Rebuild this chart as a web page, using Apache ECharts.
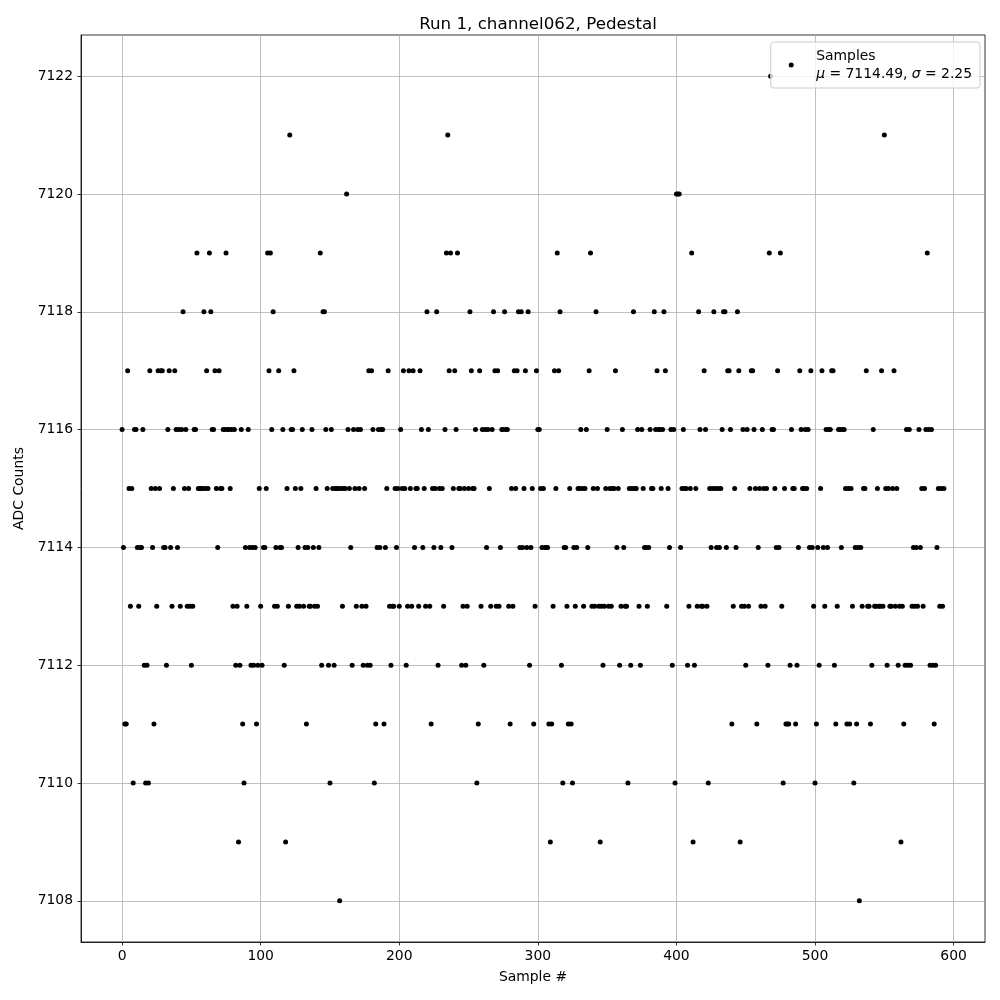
<!DOCTYPE html>
<html>
<head>
<meta charset="utf-8">
<script src="https://cdn.jsdelivr.net/npm/echarts@6/dist/echarts.min.js"></script>
<style>
  html, body { margin: 0; padding: 0; background: #fff; }
  #chart { width: 1000px; height: 1000px; }
</style>
</head>
<body>
<div id="chart"></div>
<script>
// pedestal ADC counts, one per sample
const adc = [
  7116,7114,7111,7111,7117,7115,7113,7115,7110,7116,
  7116,7114,7113,7114,7114,7116,7112,7110,7112,7110,
  7117,7115,7114,7111,7115,7113,7117,7115,7117,7117,
  7114,7114,7112,7116,7117,7114,7113,7115,7117,7116,
  7114,7116,7113,7116,7118,7115,7116,7113,7115,7113,
  7112,7113,7116,7116,7119,7115,7115,7115,7115,7118,
  7115,7117,7115,7119,7118,7116,7116,7117,7115,7114,
  7117,7115,7115,7116,7116,7119,7116,7116,7115,7116,
  7113,7116,7112,7113,7109,7112,7116,7111,7110,7114,
  7113,7116,7114,7112,7114,7112,7114,7111,7112,7115,
  7113,7112,7114,7114,7115,7119,7117,7119,7116,7118,
  7113,7114,7113,7117,7114,7114,7116,7112,7109,7115,
  7113,7121,7116,7116,7117,7115,7113,7114,7113,7115,
  7116,7113,7114,7111,7114,7113,7113,7116,7114,7113,
  7115,7113,7114,7119,7112,7118,7118,7116,7115,7112,
  7110,7116,7115,7112,7115,7115,7115,7108,7115,7113,
  7115,7115,7120,7116,7115,7114,7112,7116,7115,7113,
  7116,7115,7116,7113,7112,7115,7113,7112,7117,7112,
  7117,7116,7110,7111,7114,7116,7114,7116,7116,7111,
  7114,7115,7117,7113,7112,7113,7113,7115,7114,7115,
  7113,7116,7115,7117,7115,7112,7113,7117,7115,7113,
  7117,7114,7115,7115,7113,7117,7116,7114,7115,7113,
  7118,7116,7113,7111,7115,7114,7115,7118,7112,7115,
  7114,7115,7113,7116,7119,7121,7117,7119,7114,7115,
  7117,7116,7119,7115,7115,7112,7113,7115,7112,7113,
  7115,7118,7117,7115,7115,7116,7110,7111,7117,7113,
  7116,7112,7116,7114,7116,7115,7113,7116,7118,7117,
  7113,7117,7113,7114,7116,7116,7118,7116,7116,7113,
  7111,7115,7113,7117,7115,7117,7118,7114,7118,7114,
  7115,7117,7114,7118,7112,7114,7115,7111,7113,7117,
  7116,7116,7115,7114,7115,7114,7114,7114,7111,7109,
  7111,7113,7117,7115,7119,7117,7118,7112,7110,7114,
  7114,7113,7111,7115,7111,7110,7114,7113,7114,7115,
  7115,7116,7115,7113,7115,7116,7114,7117,7119,7113,
  7115,7113,7118,7115,7113,7109,7113,7112,7113,7115,
  7116,7113,7115,7113,7115,7115,7117,7114,7115,7112,
  7113,7116,7114,7113,7113,7110,7115,7112,7115,7118,
  7115,7115,7116,7113,7112,7116,7115,7114,7114,7113,
  7114,7116,7115,7115,7118,7116,7117,7116,7116,7115,
  7116,7118,7117,7113,7115,7114,7116,7112,7116,7110,
  7120,7120,7120,7114,7115,7116,7115,7115,7112,7113,
  7115,7119,7109,7112,7115,7113,7118,7116,7113,7113,
  7117,7116,7113,7110,7115,7114,7115,7118,7115,7114,
  7115,7114,7115,7116,7118,7118,7114,7117,7117,7116,
  7111,7113,7115,7114,7118,7117,7109,7113,7116,7113,
  7112,7116,7113,7115,7117,7117,7116,7115,7111,7114,
  7115,7113,7116,7115,7113,7115,7112,7119,7122,7116,
  7116,7115,7114,7117,7114,7119,7113,7110,7115,7111,
  7111,7111,7112,7116,7115,7115,7111,7112,7114,7117,
  7116,7115,7115,7116,7115,7116,7114,7117,7114,7113,
  7110,7111,7114,7112,7115,7117,7114,7113,7116,7114,
  7116,7116,7117,7117,7112,7111,7113,7116,7116,7114,
  7116,7116,7115,7111,7115,7111,7115,7113,7110,7114,
  7111,7114,7108,7114,7113,7115,7115,7117,7113,7113,
  7111,7112,7116,7113,7113,7115,7113,7113,7117,7113,
  7121,7115,7112,7115,7113,7113,7115,7117,7113,7115,
  7112,7113,7109,7113,7111,7112,7116,7112,7116,7112,
  7113,7114,7113,7114,7113,7116,7114,7115,7113,7115,
  7116,7119,7116,7112,7116,7112,7111,7112,7114,7115,
  7113,7115,7113,7115
];

const xTicks = [0, 100, 200, 300, 400, 500, 600];
const yTicks = [7108, 7110, 7112, 7114, 7116, 7118, 7120, 7122];
const legendName = 'Samples';
const meanText = '7114.49';
const sigmaText = '2.25';

const font = 'DejaVu Sans';
const chart = echarts.init(document.getElementById('chart'));

chart.setOption({
  animation: false,
  backgroundColor: '#fff',
  title: {
    text: 'Run 1, channel062, Pedestal',
    left: 533,
    textAlign: 'center',
    top: 11,
    textStyle: { fontFamily: font, fontSize: 16.7, fontWeight: 'normal', color: '#000' }
  },
  grid: {
    left: 81, right: 15, top: 35, bottom: 58,
    show: true, borderColor: '#000', borderWidth: 0.8, backgroundColor: 'transparent'
  },
  legend: {
    right: 20,
    top: 42,
    orient: 'vertical',
    backgroundColor: 'rgba(255,255,255,0.8)',
    borderColor: '#cccccc',
    borderWidth: 1,
    borderRadius: 3,
    padding: [5, 8, 5, 18],
    itemWidth: 30,
    itemHeight: 5,
    icon: 'circle',
    data: [legendName],
    formatter: () => '{n|' + legendName + '}\n{i|μ} = ' + meanText + ', {i|σ} = ' + sigmaText,
    textStyle: {
      fontFamily: font, fontSize: 13.9, color: '#000', padding: [0, 0, 0, 5],
      rich: {
        n: { fontFamily: font, fontSize: 13.9, lineHeight: 18 },
        i: { fontFamily: font, fontSize: 13.9, fontStyle: 'italic', lineHeight: 18 }
      },
      lineHeight: 18
    }
  },
  xAxis: {
    type: 'value',
    min: -29.65,
    max: 622.65,
    splitNumber: 6,
    name: 'Sample #',
    nameLocation: 'middle',
    nameGap: 28,
    nameTextStyle: { fontFamily: font, fontSize: 13.9, color: '#000' },
    axisLine: { show: true, onZero: false, lineStyle: { color: '#000', width: 0.8 } },
    axisTick: { show: true, length: 3.5, customValues: xTicks, lineStyle: { color: '#000', width: 0.8 } },
    axisLabel: {
      customValues: xTicks, margin: 7,
      formatter: v => String(v),
      fontFamily: font, fontSize: 13.9, color: '#000'
    },
    splitLine: { show: true, lineStyle: { color: '#b0b0b0', width: 0.8 } }
  },
  yAxis: {
    type: 'value',
    min: 7107.3,
    max: 7122.7,
    splitNumber: 8,
    name: 'ADC Counts',
    nameLocation: 'middle',
    nameGap: 53,
    nameTextStyle: { fontFamily: font, fontSize: 13.9, color: '#000' },
    axisLine: { show: true, onZero: false, lineStyle: { color: '#000', width: 0.8 } },
    axisTick: { show: true, length: 3.5, customValues: yTicks, lineStyle: { color: '#000', width: 0.8 } },
    axisLabel: {
      customValues: yTicks, margin: 8,
      formatter: v => String(v),
      fontFamily: font, fontSize: 13.9, color: '#000'
    },
    splitLine: { show: true, lineStyle: { color: '#b0b0b0', width: 0.8 } }
  },
  series: [{
    name: legendName,
    type: 'scatter',
    symbol: 'circle',
    symbolSize: 5,
    itemStyle: { color: '#000', opacity: 1 },
    data: adc.map((v, i) => [i, v]),
    z: 3
  }]
});
</script>
</body>
</html>
